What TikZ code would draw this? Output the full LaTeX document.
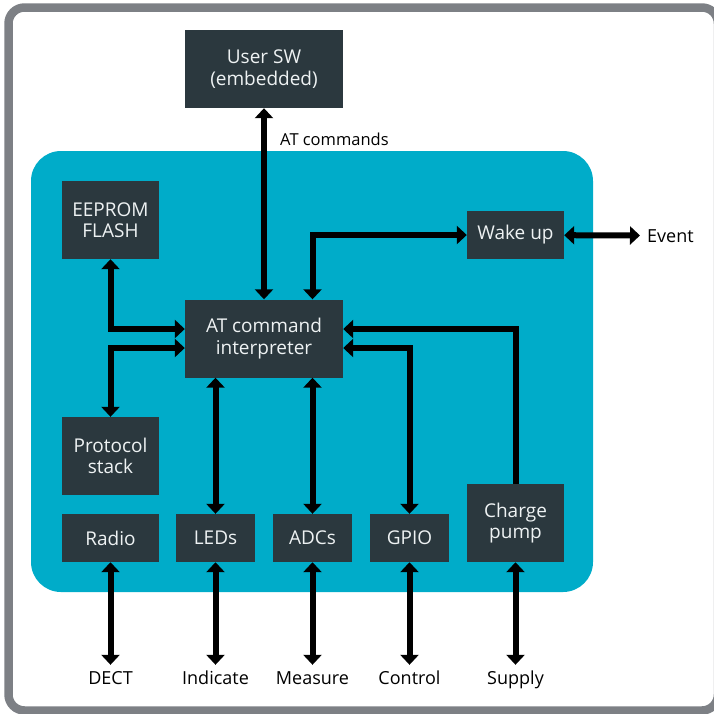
\documentclass[tikz,border=0pt]{standalone}
\usepackage{fontspec}
\setmainfont{Open Sans}
\usepackage{tikz}
\usetikzlibrary{positioning,calc,arrows.meta}
\definecolor{panelblue}{HTML}{00ACC9}
\definecolor{boxdark}{HTML}{2B383E}
\definecolor{framegray}{HTML}{7D8085}
\definecolor{boxtext}{HTML}{EEF2F3}

\begin{document}
\begin{tikzpicture}[x=1pt,y=-1pt,
  blk/.style={fill=boxdark,text=boxtext,inner sep=0pt,align=center,font=\fontsize{19}{21.5}\selectfont},
  wide/.style={blk,minimum width=158pt,minimum height=78pt},
  tall/.style={blk,minimum width=97pt,minimum height=78pt},
  flat/.style={blk,minimum width=97pt,minimum height=48pt},
  slim/.style={blk,minimum width=79pt,minimum height=48pt},
  lbl/.style={font=\fontsize{18}{21.5}\selectfont,inner xsep=0pt,inner ysep=6.5pt,text height=13pt,text depth=4pt,anchor=base},
  io/.style={{Triangle[width=18pt,length=10pt]}-{Triangle[width=18pt,length=10pt]},line width=6pt},
  feed/.style={-{Triangle[width=18pt,length=10pt]},line width=6pt}]

\useasboundingbox (0,0) rectangle (714,713);
\clip (0,0) rectangle (714,713);
\draw[framegray,line width=8.5pt,rounded corners=16pt] (8.5,7.5) rectangle (718,710.5);
\fill[panelblue,rounded corners=30pt] (31,151) rectangle (593,592);

\node[wide] (usersw) at (264,69)    {User SW\\(embedded)};
\node[wide] (atci)   at (264,338.5) {AT command\\interpreter};
\node[tall] (eeprom) at (110.5,220) {EEPROM\\FLASH};
\node[flat] (wake)   at (515.5,235) {Wake up};
\node[tall] (proto)  at (110.5,456) {Protocol\\stack};
\node[flat] (radio)  at (110.5,538) {Radio};
\node[slim] (leds)   at (215.5,538) {LEDs};
\node[slim] (adcs)   at (312.5,538) {ADCs};
\node[slim] (gpio)   at (409.5,538) {GPIO};
\node[tall] (pump)   at (515.5,523) {Charge\\pump};

\node[anchor=west,inner sep=0pt,font=\fontsize{16.5}{20}\selectfont] (atcmd) at (280,139) {AT commands};
\node[lbl,anchor=base west,text depth=0pt,inner xsep=7pt] (event) at (640,242) {Event};
\node[lbl] (dect)    at (110.5,684.5) {DECT};
\node[lbl] (indic)   at (215.5,684.5) {Indicate};
\node[lbl] (measure) at (312.5,684.5) {Measure};
\node[lbl] (control) at (409.5,684.5) {Control};
\node[lbl] (supply)  at (515.5,684.5) {Supply};

\path[io]
	(usersw) edge (atci)
	(atci.south -| leds) edge (leds)
	(atci.south -| adcs) edge (adcs)
	(wake) edge (event.west)
	(radio) edge (dect)
	(leds) edge (indic)
	(adcs) edge (measure)
	(gpio) edge (control)
	(pump) edge (supply);

\draw[io] (atci.north -| adcs) |- (wake);
\draw[io] (eeprom) |- ([yshift=9.5pt]atci.west);
\draw[io] ([yshift=-9.5pt]atci.west) -| (proto);
\draw[io] ([yshift=-9.5pt]atci.east) -| (gpio);
\draw[feed] (pump) |- ([yshift=9.5pt]atci.east);
\end{tikzpicture}
\end{document}
